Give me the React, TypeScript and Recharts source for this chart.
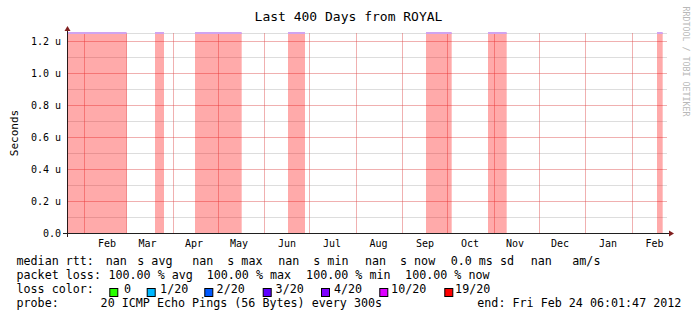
import React from 'react';
import { ComposedChart, Area, XAxis, YAxis, CartesianGrid } from 'recharts';

// ---- data ----
const START = '2011-01-20T06:01:47';
const END = '2012-02-24T06:01:47';

// periods shown as 100% loss (full-height bands)
const bandStarts = [
  '2011-01-20T06:01:47',
  '2011-03-19T22:00',
  '2011-04-15T14:00',
  '2011-06-16T14:00',
  '2011-09-16T14:00',
  '2011-10-27T22:00',
  '2012-02-17T14:00',
];
const bandEnds = [
  '2011-03-01T00:00',
  '2011-03-25T22:00',
  '2011-05-16T17:00',
  '2011-06-27T22:00',
  '2011-10-03T17:00',
  '2011-11-09T09:00',
  '2012-02-21T09:00',
];

const monthStarts = [
  '2011-02-01', '2011-03-01', '2011-04-01', '2011-05-01', '2011-06-01', '2011-07-01',
  '2011-08-01', '2011-09-01', '2011-10-01', '2011-11-01', '2011-12-01', '2012-01-01', '2012-02-01',
];
const monthLabelDates = [
  '2011-02-16', '2011-03-15', '2011-04-15', '2011-05-15', '2011-06-16', '2011-07-16',
  '2011-08-16', '2011-09-16', '2011-10-16', '2011-11-15', '2011-12-15', '2012-01-16', '2012-02-16',
];
const monthLabels = ['Feb', 'Mar', 'Apr', 'May', 'Jun', 'Jul', 'Aug', 'Sep', 'Oct', 'Nov', 'Dec', 'Jan', 'Feb'];

const Y_MAX = 1.25;
const yMajorTicks = [0, 0.2, 0.4, 0.6, 0.8, 1.0, 1.2];
const yTickLabels = ['0.0', '0.2 u', '0.4 u', '0.6 u', '0.8 u', '1.0 u', '1.2 u'];
const yMinorTicks = [0.1, 0.3, 0.5, 0.7, 0.9, 1.1, 1.25];

const lossColors = ['#26ff00', '#00b8ff', '#0059ff', '#5e00ff', '#7e00ff', '#dd00ff', '#ff0000'];
const lossLabels = ['0', '1/20', '2/20', '3/20', '4/20', '10/20', '19/20'];

// ---- helpers ----
const t = (s: string) => Date.parse(s.length === 10 ? s + 'T00:00:00Z' : s + 'Z');

const lossData = bandStarts.flatMap((s, i) => [
  { t: t(s), loss: Y_MAX },
  { t: t(bandEnds[i]), loss: Y_MAX },
  { t: t(bandEnds[i]), loss: null },
]);
const monthStartTimes = monthStarts.map(t);
const monthLabelTimes = monthLabelDates.map(t);

const MONO = '"DejaVu Sans Mono", monospace';
const MAJOR = 'rgba(222,79,79,0.45)';
const MINOR = 'rgba(143,143,143,0.3)';

// legend layout
const row1: [string, number][] = [
  ['median rtt:', 16.5], ['nan', 105.7], ['s avg', 137.3], ['nan', 192.3], ['s max', 227.3],
  ['nan', 278.3], ['s min', 313.3], ['nan', 365], ['s now', 400], ['0.0 ms sd', 450.7],
  ['nan', 530.7], ['am/s', 572.3],
];
const row2: [string, number][] = [
  ['packet loss:', 16.5], ['100.00 % avg', 108.4], ['100.00 % max', 206.7],
  ['100.00 % min', 306.1], ['100.00 % now', 405.1],
];
const boxX = [109.3, 146.7, 204.3, 262.7, 321, 379.3, 444.3];
const boxLabelX = [124, 160.1, 216.6, 275.6, 333.9, 391.1, 455.1];
const row4: [string, number][] = [
  ['probe:', 16.5], ['20 ICMP Echo Pings (56 Bytes) every 300s', 100.6],
  ['end: Fri Feb 24 06:01:47 2012', 477.3],
];

export default function App() {
  const textStyle = { fontFamily: MONO, fontSize: 11.7, fill: '#000', whiteSpace: 'pre' as const };
  return (
    <div style={{ position: 'absolute', left: 0, top: 0, width: 697, height: 321, background: '#fff' }}>
      <style>{`.recharts-cartesian-grid line { shape-rendering: crispEdges; }`}</style>
      <div style={{ position: 'absolute', left: 0, top: 0 }}>
        <ComposedChart
          width={697}
          height={321}
          data={lossData}
          margin={{ top: 33, right: 30, bottom: 0, left: 0 }}
        >
          <CartesianGrid horizontalValues={yMinorTicks} vertical={false} stroke={MINOR} />
          <CartesianGrid
            horizontalValues={yMajorTicks.filter((v) => v > 0)}
            verticalValues={monthStartTimes}
            stroke={MAJOR}
          />
          <XAxis
            xAxisId="ms"
            dataKey="t"
            type="number"
            domain={[t(START), t(END)]}
            ticks={monthStartTimes}
            interval={0}
            tick={false}
            tickLine={{ stroke: MAJOR }}
            tickSize={4}
            axisLine={false}
            height={0}
          />
          <XAxis
            dataKey="t"
            type="number"
            domain={[t(START), t(END)]}
            ticks={monthLabelTimes}
            interval={0}
            tickFormatter={(_v: number, i: number) => monthLabels[i]}
            tickLine={false}
            axisLine={false}
            tickSize={0}
            tickMargin={7}
            height={88}
            tick={{ fontSize: 10, fill: '#000', fontFamily: MONO }}
          />
          <YAxis
            type="number"
            domain={[0, Y_MAX]}
            ticks={yMajorTicks}
            interval={0}
            tickFormatter={(_v: number, i: number) => yTickLabels[i]}
            tickLine={false}
            axisLine={false}
            tickSize={0}
            tickMargin={6}
            width={67}
            tick={{ fontSize: 10, fill: '#000', fontFamily: MONO }}
          />
          <Area
            dataKey="loss"
            type="linear"
            stroke="#d0a4f0"
            strokeWidth={2}
            fill="#ff0000"
            fillOpacity={0.333}
            connectNulls={false}
            isAnimationActive={false}
            dot={false}
            activeDot={false}
          />
        </ComposedChart>
      </div>
      <svg
        width={697}
        height={321}
        style={{ position: 'absolute', left: 0, top: 0, pointerEvents: 'none' }}
      >
        {/* axes */}
        <line x1={63} y1={233.5} x2={669} y2={233.5} stroke="#1f1f1f" strokeWidth={1} />
        <line x1={67.5} y1={237} x2={67.5} y2={30} stroke="#2a1a1a" strokeWidth={1} />
        <polygon points="64.5,31 70.5,31 67.5,26" fill="#801f1f" />
        <polygon points="669,230.5 669,236.5 674,233.5" fill="#801f1f" />
        {/* title */}
        <text x={348.5} y={21} textAnchor="middle" style={{ fontFamily: MONO, fontSize: 13, fill: '#000', whiteSpace: 'pre' }}>
          Last 400 Days from ROYAL
        </text>
        {/* y label */}
        <text
          transform="translate(18.3,133) rotate(-90)"
          textAnchor="middle"
          style={{ fontFamily: MONO, fontSize: 11, fill: '#000' }}
        >
          Seconds
        </text>
        {/* watermark */}
        <text
          transform="translate(683,61.5) rotate(90)"
          textAnchor="middle"
          style={{ fontFamily: MONO, fontSize: 8.3, fill: '#b8b8b8', whiteSpace: 'pre' }}
        >
          RRDTOOL / TOBI OETIKER
        </text>
        {/* legend */}
        {row1.map(([s, x], i) => (
          <text key={'r1' + i} x={x} y={264.7} style={textStyle}>{s}</text>
        ))}
        {row2.map(([s, x], i) => (
          <text key={'r2' + i} x={x} y={278.7} style={textStyle}>{s}</text>
        ))}
        <text x={16.5} y={292.7} style={textStyle}>loss color:</text>
        {lossColors.map((c, i) => (
          <g key={'b' + i}>
            <rect x={boxX[i] + 0.5} y={288.5} width={8} height={8} fill={c} stroke="#000" strokeWidth={1} />
            <text x={boxLabelX[i]} y={292.7} style={textStyle}>{lossLabels[i]}</text>
          </g>
        ))}
        {row4.map(([s, x], i) => (
          <text key={'r4' + i} x={x} y={306.7} style={textStyle}>{s}</text>
        ))}
      </svg>
    </div>
  );
}
